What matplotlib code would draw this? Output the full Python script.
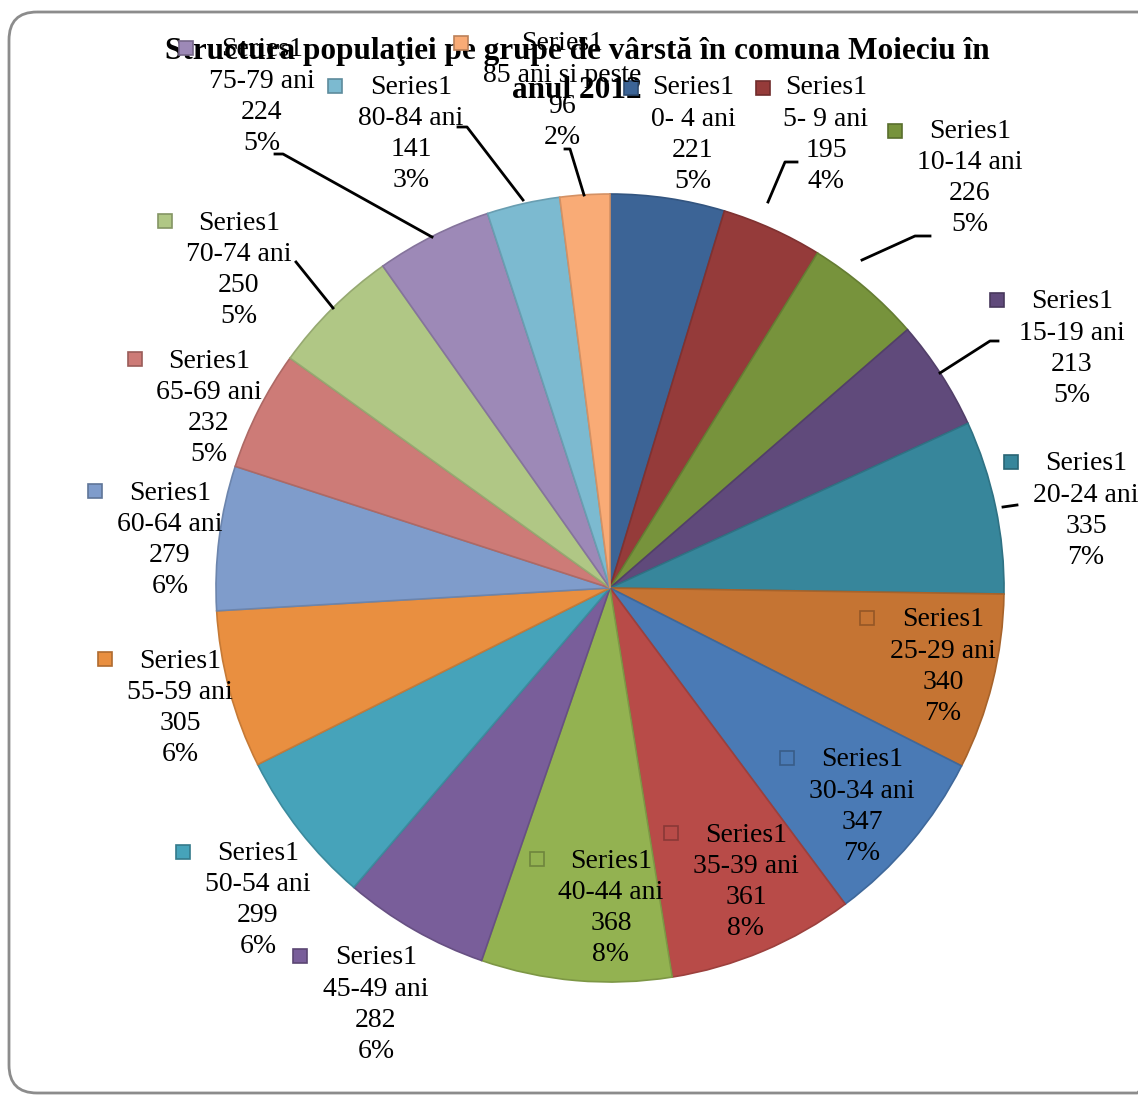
import matplotlib
matplotlib.use("Agg")
import matplotlib.pyplot as plt
from matplotlib.patches import Rectangle, FancyBboxPatch
from matplotlib.colors import to_rgb

# data
groups = ["0- 4 ani", "5- 9 ani", "10-14 ani", "15-19 ani", "20-24 ani", "25-29 ani",
          "30-34 ani", "35-39 ani", "40-44 ani", "45-49 ani", "50-54 ani", "55-59 ani",
          "60-64 ani", "65-69 ani", "70-74 ani", "75-79 ani", "80-84 ani", "85 ani si peste"]
values = [221, 195, 226, 213, 335, 340, 347, 361, 368, 282, 299, 305, 279, 232, 250, 224, 141, 96]
series = "Series1"
title = "Structura populaţiei pe grupe de vârstă în comuna Moieciu în\nanul 2012"

colors = ["#3c6496", "#953b3a", "#77933c", "#604a7b", "#37869b", "#c57433",
          "#4a7ab5", "#b84b48", "#93b251", "#795e9a", "#46a3ba", "#e98f40",
          "#7f9ccb", "#cd7b77", "#b0c785", "#9d89b7", "#7cbad0", "#f9ab76"]

# label layout in pixels: text centre x, first line y, legend key x, key y
label_pos = [(693, 88, 631, 88), (826, 88, 763, 88), (970, 131, 895, 131),
             (1072, 302, 997, 300), (1086, 464, 1011, 462), (943, 620, 867, 618),
             (862, 760, 787, 758), (746, 835, 671, 833), (611, 861, 537, 859),
             (376, 958, 300, 956), (258, 853, 183, 852), (180, 661, 105, 659),
             (170, 493, 95, 491), (209, 361, 135, 359), (239, 223, 165, 221),
             (262, 50, 186, 48), (411, 87, 335, 86), (562, 44, 461, 43)]

# leader lines
leaders = [[(768, 202), (785, 162), (797, 162)],
           [(862, 260), (915, 236), (930, 236)],
           [(940, 373), (990, 341), (998, 341)],
           [(1003, 507), (1017, 505)],
           [(333, 308), (296, 262)],
           [(432, 237), (283, 154), (275, 154)],
           [(523, 200), (467, 127), (458, 127)],
           [(584, 195), (570, 149), (565, 149)]]

W, H = 1138, 1096
fig = plt.figure(figsize=(W / 100, H / 100), dpi=100)
ax = fig.add_axes([0, 0, 1, 1])

wedges, _ = ax.pie(values, colors=colors, center=(610, 588), radius=394,
                   startangle=270, counterclock=True)
for w, c in zip(wedges, colors):
    r, g, b = to_rgb(c)
    w.set_edgecolor((r * 0.85, g * 0.85, b * 0.85))
    w.set_linewidth(1.2)

ax.set_xlim(0, W)
ax.set_ylim(H, 0)
ax.set_aspect("auto")
ax.axis("off")

# chart frame
ax.add_patch(FancyBboxPatch((9, 12), 1131 + 25, 1081, boxstyle="round,pad=0,rounding_size=28",
                            fill=False, edgecolor="#8c8c8c", linewidth=2, zorder=1))

t1, t2 = title.split("\n")
ax.text(577, 52, t1, ha="center", va="center", fontsize=22.5,
        fontweight="bold", family="Liberation Serif", zorder=3)
ax.text(577, 90, t2, ha="center", va="center", fontsize=22.5,
        fontweight="bold", family="Liberation Serif", zorder=3)

total = sum(values)
for i, (g, v) in enumerate(zip(groups, values)):
    cx, y0, kx, ky = label_pos[i]
    lines = [series, g, str(v), "%d%%" % round(100 * v / total)]
    for j, s in enumerate(lines):
        ax.text(cx, y0 + j * 31.2, s, ha="center", va="center", fontsize=20,
                family="Liberation Serif", zorder=4)
    r, gg, b = to_rgb(colors[i])
    ax.add_patch(Rectangle((kx - 7, ky - 7), 14, 14, facecolor=colors[i],
                           edgecolor=(r * 0.75, gg * 0.75, b * 0.75), linewidth=1.2, zorder=4))

for pts in leaders:
    xs = [p[0] for p in pts]
    ys = [p[1] for p in pts]
    ax.plot(xs, ys, color="black", linewidth=2, zorder=3)

fig.savefig("out.png", dpi=100)
